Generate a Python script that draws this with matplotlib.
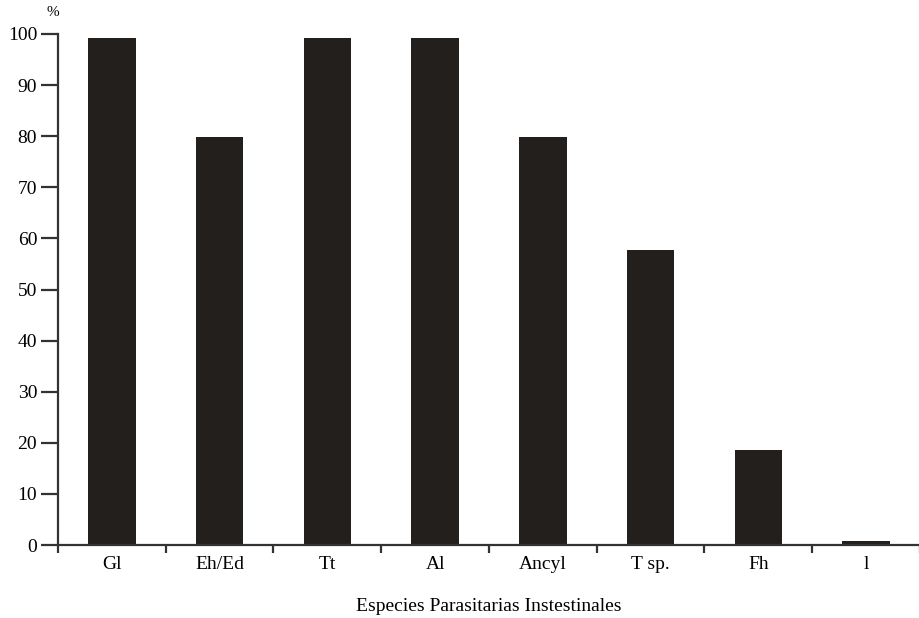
import matplotlib
matplotlib.use("Agg")
import matplotlib.pyplot as plt
import numpy as np

categories = ["Gl", "Eh/Ed", "Tt", "Al", "Ancyl", "T sp.", "Fh", "l"]
values = [99.2, 79.8, 99.2, 99.2, 79.8, 57.7, 18.6, 0.8]
yticks = [0, 10, 20, 30, 40, 50, 60, 70, 80, 90, 100]

plt.rcParams['font.family'] = ['Liberation Serif', 'DejaVu Serif']

fig = plt.figure(figsize=(9.2, 6.18), dpi=100)
ax = fig.add_axes([58/920, 73/618, 862/920, 511/618])

bar_color = '#231f1c'
x = np.arange(len(categories))
ax.bar(x, values, width=0.44, color=bar_color)

ax.set_xlim(-0.5, len(categories) - 0.5)
ax.set_ylim(0, 100)

ax.spines['top'].set_visible(False)
ax.spines['right'].set_visible(False)
for s in ['left', 'bottom']:
    ax.spines[s].set_color('#333333')
    ax.spines[s].set_linewidth(1.6)

ax.set_yticks(yticks)
ax.set_yticklabels([str(v) for v in yticks], fontsize=14)
ax.tick_params(axis='y', direction='out', length=12, width=1.6, color='#333333', pad=3)

ax.set_xticks(np.arange(len(categories) + 1) - 0.5)
ax.set_xticklabels([])
ax.tick_params(axis='x', which='major', direction='out', length=6, width=1.6, color='#333333')
ax.set_xticks(x, minor=True)
ax.set_xticklabels(categories, minor=True, fontsize=14)
ax.tick_params(axis='x', which='minor', length=0, pad=8)

ax.set_xlabel("Especies Parasitarias Instestinales", fontsize=14, labelpad=18)
ax.text(-0.006, 1.03, "%", transform=ax.transAxes, fontsize=11, ha='center', va='bottom')

fig.savefig("out.png", dpi=100)
